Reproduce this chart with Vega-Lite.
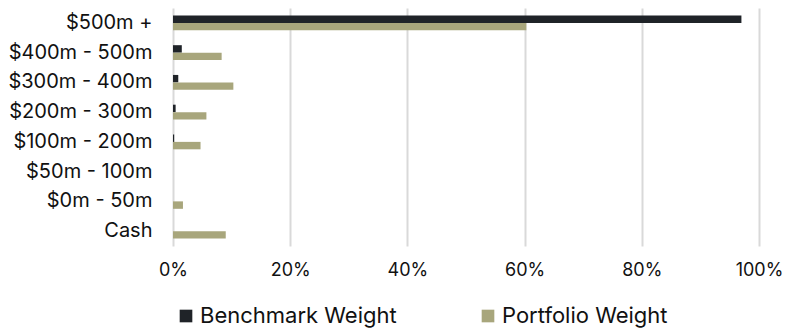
{
  "$schema": "https://vega.github.io/schema/vega-lite/v6.json",
  "width": 586,
  "height": 238,
  "autosize": {"type": "none"},
  "padding": {"left": 173, "top": 8, "right": 28, "bottom": 83},
  "background": "white",
  "config": {
    "view": {"stroke": null},
    "font": "Inter",
    "axis": {"labelFont": "Inter", "labelColor": "#111111"},
    "legend": {"labelFont": "Inter", "labelColor": "#111111"}
  },
  "data": {
    "values": [
      {"band": "$500m +", "series": "Benchmark Weight", "value": 0.97},
      {"band": "$500m +", "series": "Portfolio Weight", "value": 0.603},
      {"band": "$400m - 500m", "series": "Benchmark Weight", "value": 0.015},
      {"band": "$400m - 500m", "series": "Portfolio Weight", "value": 0.083},
      {"band": "$300m - 400m", "series": "Benchmark Weight", "value": 0.009},
      {"band": "$300m - 400m", "series": "Portfolio Weight", "value": 0.103},
      {"band": "$200m - 300m", "series": "Benchmark Weight", "value": 0.0045},
      {"band": "$200m - 300m", "series": "Portfolio Weight", "value": 0.057},
      {"band": "$100m - 200m", "series": "Benchmark Weight", "value": 0.002},
      {"band": "$100m - 200m", "series": "Portfolio Weight", "value": 0.047},
      {"band": "$50m - 100m", "series": "Benchmark Weight", "value": 0},
      {"band": "$50m - 100m", "series": "Portfolio Weight", "value": 0},
      {"band": "$0m - 50m", "series": "Benchmark Weight", "value": 0},
      {"band": "$0m - 50m", "series": "Portfolio Weight", "value": 0.017},
      {"band": "Cash", "series": "Benchmark Weight", "value": 0},
      {"band": "Cash", "series": "Portfolio Weight", "value": 0.09}
    ]
  },
  "mark": {"type": "bar"},
  "encoding": {
    "y": {
      "field": "band",
      "type": "nominal",
      "sort": null,
      "scale": {"paddingInner": 0.5, "paddingOuter": 0.25},
      "axis": {
        "title": null,
        "ticks": false,
        "domain": false,
        "labelFontSize": 20,
        "labelPadding": 21,
        "labelLimit": 200
      }
    },
    "yOffset": {"field": "series", "type": "nominal", "sort": ["Benchmark Weight", "Portfolio Weight"]},
    "x": {
      "field": "value",
      "type": "quantitative",
      "scale": {"domain": [0, 1], "nice": false},
      "axis": {
        "title": null,
        "format": ".0%",
        "values": [0, 0.2, 0.4, 0.6, 0.8, 1],
        "ticks": false,
        "domain": false,
        "grid": true,
        "gridColor": "#d9d9d9",
        "gridWidth": 2,
        "labelFlush": false,
        "labelFontSize": 18,
        "labelPadding": 15
      }
    },
    "color": {
      "field": "series",
      "type": "nominal",
      "scale": {"domain": ["Benchmark Weight", "Portfolio Weight"], "range": ["#1f2328", "#a8a67c"]},
      "legend": {
        "title": null,
        "orient": "none",
        "direction": "horizontal",
        "legendX": 2,
        "legendY": 297,
        "symbolType": "square",
        "symbolSize": 160,
        "symbolStrokeWidth": 0,
        "labelFontSize": 22,
        "labelOffset": 3,
        "labelLimit": 300,
        "columnPadding": 80
      }
    }
  }
}
